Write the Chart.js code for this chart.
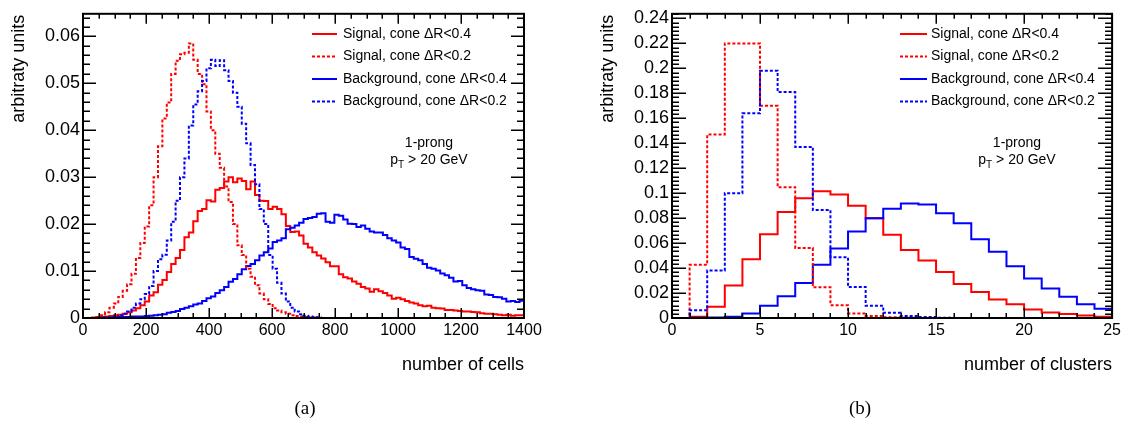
<!DOCTYPE html>
<html>
<head>
<meta charset="utf-8">
<script src="https://cdn.jsdelivr.net/npm/chart.js@4.4.1/dist/chart.umd.min.js"></script>
<style>
  html, body { margin: 0; padding: 0; background: #fff; }
  #wrap { position: relative; width: 1124px; height: 423px; overflow: hidden; }
  .panel { position: absolute; top: 0; width: 562px; height: 423px; }
</style>
</head>
<body>
<div id="wrap">
  <div class="panel" style="left:0"><canvas id="cells" width="562" height="423"></canvas></div>
  <div class="panel" style="left:562px"><canvas id="clusters" width="562" height="423"></canvas></div>
</div>
<script>
// ---- series names ----
const seriesLabels = [
  'Signal, cone \u0394R<0.4',
  'Signal, cone \u0394R<0.2',
  'Background, cone \u0394R<0.4',
  'Background, cone \u0394R<0.2'
];

// ---- (a) number of cells: 100 bins of width 14 over 0..1400 ----
const cellsBinWidth = 14;
const cellsSignal04 = [
  0, 0, 0.0001, 0.0002, 0.0002, 0.0003, 0.0004, 0.0006, 0.0007, 0.0009,
  0.0012, 0.0016, 0.0021, 0.0027, 0.0035, 0.0048, 0.0055, 0.0071, 0.0081, 0.0098,
  0.0115, 0.0128, 0.0145, 0.0172, 0.0182, 0.0206, 0.0228, 0.0232, 0.0251, 0.0248,
  0.0273, 0.0277, 0.0291, 0.0300, 0.0289, 0.0297, 0.0292, 0.0274, 0.0291, 0.0262,
  0.0250, 0.0249, 0.0232, 0.0237, 0.0232, 0.0221, 0.0196, 0.0183, 0.0184, 0.0176,
  0.0158, 0.0150, 0.0140, 0.0133, 0.0127, 0.0119, 0.0110, 0.0110, 0.0093, 0.0087,
  0.0084, 0.0078, 0.0073, 0.0066, 0.0063, 0.0056, 0.0061, 0.0057, 0.0053, 0.0048,
  0.0041, 0.0043, 0.0040, 0.0036, 0.0033, 0.0031, 0.0027, 0.0025, 0.0026, 0.0022,
  0.0021, 0.0020, 0.0017, 0.0017, 0.0016, 0.0015, 0.0014, 0.0014, 0.0013, 0.0012,
  0.0010, 0.0009, 0.0009, 0.0008, 0.0007, 0.0006, 0.0007, 0.0005, 0.0006, 0.0006
];
const cellsSignal02 = [
  0, 0, 0, 0.0002, 0.0006, 0.0012, 0.0022, 0.0031, 0.0045, 0.0058,
  0.0072, 0.0094, 0.0128, 0.0160, 0.0195, 0.0240, 0.0300, 0.0366, 0.0425, 0.0459,
  0.0520, 0.0548, 0.0562, 0.0565, 0.0585, 0.0550, 0.0520, 0.0498, 0.0440, 0.0400,
  0.0350, 0.0320, 0.0280, 0.0247, 0.0200, 0.0155, 0.0134, 0.0105, 0.0088, 0.0070,
  0.0052, 0.0040, 0.0030, 0.0021, 0.0016, 0.0012, 0.0009, 0.0006, 0.0004, 0.0003,
  0.0002, 0.0001, 0.0001, 0, 0, 0, 0, 0, 0, 0,
  0, 0, 0, 0, 0, 0, 0, 0, 0, 0,
  0, 0, 0, 0, 0, 0, 0, 0, 0, 0,
  0, 0, 0, 0, 0, 0, 0, 0, 0, 0,
  0, 0, 0, 0, 0, 0, 0, 0, 0, 0
];
const cellsBackground04 = [
  0, 0, 0, 0, 0.0001, 0.0001, 0.0001, 0.0001, 0.0002, 0.0002,
  0.0002, 0.0003, 0.0003, 0.0003, 0.0004, 0.0005, 0.0006, 0.0007, 0.0008, 0.0011,
  0.0013, 0.0015, 0.0019, 0.0022, 0.0025, 0.0029, 0.0031, 0.0036, 0.0042, 0.0046,
  0.0053, 0.0059, 0.0066, 0.0077, 0.0083, 0.0093, 0.0104, 0.0111, 0.0115, 0.0123,
  0.0133, 0.0140, 0.0148, 0.0162, 0.0165, 0.0170, 0.0189, 0.0192, 0.0197, 0.0203,
  0.0211, 0.0213, 0.0215, 0.0222, 0.0223, 0.0205, 0.0203, 0.0220, 0.0218, 0.0210,
  0.0201, 0.0200, 0.0194, 0.0197, 0.0190, 0.0184, 0.0182, 0.0182, 0.0177, 0.0170,
  0.0165, 0.0161, 0.0150, 0.0147, 0.0130, 0.0126, 0.0123, 0.0115, 0.0107, 0.0105,
  0.0101, 0.0095, 0.0091, 0.0086, 0.0078, 0.0079, 0.0070, 0.0064, 0.0061, 0.0059,
  0.0058, 0.0050, 0.0049, 0.0045, 0.0044, 0.0041, 0.0035, 0.0036, 0.0034, 0.0037
];
const cellsBackground02 = [
  0, 0, 0, 0, 0, 0.0001, 0.0001, 0.0003, 0.0006, 0.0009,
  0.0014, 0.0022, 0.0031, 0.0040, 0.0051, 0.0068, 0.0100, 0.0125, 0.0135, 0.0165,
  0.0205, 0.0250, 0.0300, 0.0340, 0.0410, 0.0455, 0.0483, 0.0505, 0.0532, 0.0550,
  0.0537, 0.0549, 0.0528, 0.0505, 0.0480, 0.0450, 0.0414, 0.0372, 0.0326, 0.0285,
  0.0232, 0.0200, 0.0134, 0.0105, 0.0075, 0.0052, 0.0035, 0.0022, 0.0014, 0.0008,
  0.0005, 0.0003, 0.0002, 0.0001, 0, 0, 0, 0, 0, 0,
  0, 0, 0, 0, 0, 0, 0, 0, 0, 0,
  0, 0, 0, 0, 0, 0, 0, 0, 0, 0,
  0, 0, 0, 0, 0, 0, 0, 0, 0, 0,
  0, 0, 0, 0, 0, 0, 0, 0, 0, 0
];
const cellsXTicks = [0, 200, 400, 600, 800, 1000, 1200, 1400];
const cellsYTicks = [0, 0.01, 0.02, 0.03, 0.04, 0.05, 0.06];

// ---- (b) number of clusters: 25 bins of width 1 over 0..25 ----
const clustersBinWidth = 1;
const clustersSignal04 = [
  0, 0.0010, 0.0090, 0.0260, 0.0470, 0.0670, 0.0850, 0.0960, 0.1015, 0.0990,
  0.0900, 0.0800, 0.0667, 0.0545, 0.0460, 0.0368, 0.0272, 0.0209, 0.0148, 0.0110,
  0.0069, 0.0045, 0.0032, 0.0021, 0.0010
];
const clustersSignal02 = [
  0, 0.0426, 0.1470, 0.2200, 0.2200, 0.1700, 0.1048, 0.0560, 0.0246, 0.0103,
  0.0037, 0.0016, 0.0007, 0.0003, 0.0001, 0, 0, 0, 0, 0,
  0, 0, 0, 0, 0
];
const clustersBackground04 = [
  0, 0.0002, 0.0005, 0.0010, 0.0037, 0.0098, 0.0175, 0.0280, 0.0426, 0.0556,
  0.0693, 0.0800, 0.0876, 0.0918, 0.0910, 0.0839, 0.0760, 0.0630, 0.0530, 0.0415,
  0.0317, 0.0236, 0.0170, 0.0110, 0.0074
];
const clustersBackground02 = [
  0, 0.0063, 0.0380, 0.1000, 0.1640, 0.1980, 0.1810, 0.1370, 0.0865, 0.0487,
  0.0249, 0.0098, 0.0042, 0.0016, 0.0008, 0.0003, 0, 0, 0, 0,
  0, 0, 0, 0, 0
];
const clustersXTicks = [0, 5, 10, 15, 20, 25];
const clustersYTicks = [0, 0.02, 0.04, 0.06, 0.08, 0.1, 0.12, 0.14, 0.16, 0.18, 0.2, 0.22, 0.24];

// ---- styling ----
const SANS = '"Liberation Sans", Arial, Helvetica, sans-serif';
const SERIF = '"Liberation Serif", "Times New Roman", serif';
const seriesStyles = [
  { color: '#ff0000', dash: [], order: 4 },
  { color: '#ff0000', dash: [3, 2], order: 2 },
  { color: '#0000ff', dash: [], order: 3 },
  { color: '#0000ff', dash: [3, 2], order: 1 }
];

// Histogram outline: one point per lower bin edge, plus the last upper edge.
function histogramPoints(values, width) {
  const pts = values.map((v, i) => ({ x: i * width, y: v }));
  pts.push({ x: values.length * width, y: values[values.length - 1] });
  return pts;
}

function makeDatasets(seriesList, width) {
  return seriesList.map((values, i) => ({
    label: seriesLabels[i],
    data: histogramPoints(values, width),
    borderColor: seriesStyles[i].color,
    borderDash: seriesStyles[i].dash,
    borderWidth: 2,
    stepped: 'before',
    pointRadius: 0,
    fill: false,
    order: seriesStyles[i].order
  }));
}

const fmt = v => String(+Number(v).toFixed(4));

// Frame with inward ticks on all four sides, legend and annotation texts.
const framePlugin = {
  id: 'rootFrame',
  afterDatasetsDraw(chart, args, o) {
    const { ctx, chartArea: a, scales: { x, y } } = chart;
    ctx.save();
    ctx.strokeStyle = '#000';
    ctx.lineWidth = 1.5;
    ctx.setLineDash([]);
    ctx.beginPath();
    const nx = Math.round((x.max - x.min) / o.xMinor);
    for (let k = 0; k <= nx; k++) {
      const v = x.min + k * o.xMinor;
      if (v > x.max + 1e-9) break;
      const px = Math.round(x.getPixelForValue(v)) + 0.25;
      const r = v / o.xMajor;
      const len = Math.abs(r - Math.round(r)) < 1e-6 ? o.xMajorLen : o.xMinorLen;
      ctx.moveTo(px, a.bottom); ctx.lineTo(px, a.bottom - len);
      ctx.moveTo(px, a.top); ctx.lineTo(px, a.top + len);
    }
    const ny = Math.floor((y.max - y.min) / o.yMinor + 1e-6);
    for (let k = 0; k <= ny; k++) {
      const v = y.min + k * o.yMinor;
      const py = Math.round(y.getPixelForValue(v)) + 0.25;
      const r = v / o.yMajor;
      const len = Math.abs(r - Math.round(r)) < 1e-6 ? o.yMajorLen : o.yMinorLen;
      ctx.moveTo(a.left, py); ctx.lineTo(a.left + len, py);
      ctx.moveTo(a.right, py); ctx.lineTo(a.right - len, py);
    }
    ctx.stroke();
    ctx.lineWidth = 2;
    ctx.strokeRect(a.left, a.top, a.right - a.left, a.bottom - a.top);

    // legend
    ctx.font = '14px ' + SANS;
    ctx.textAlign = 'left';
    ctx.textBaseline = 'middle';
    ctx.fillStyle = '#000';
    chart.data.datasets.forEach((ds, i) => {
      const ly = o.legendY[i];
      ctx.strokeStyle = ds.borderColor;
      ctx.lineWidth = 2;
      ctx.setLineDash(ds.borderDash || []);
      ctx.beginPath();
      ctx.moveTo(o.legendLine[0], ly);
      ctx.lineTo(o.legendLine[1], ly);
      ctx.stroke();
      ctx.setLineDash([]);
      ctx.fillText(ds.label, o.legendTextX, ly);
    });

    // selection notes
    ctx.textAlign = 'center';
    ctx.fillText('1-prong', o.noteX, o.noteY[0]);
    const f1 = '14px ' + SANS, f2 = '10px ' + SANS;
    ctx.font = f1; const wp = ctx.measureText('p').width;
    const rest = ' > 20 GeV'; const wr = ctx.measureText(rest).width;
    ctx.font = f2; const wt = ctx.measureText('T').width;
    let sx = o.noteX - (wp + wt + wr) / 2;
    ctx.textAlign = 'left';
    ctx.font = f1; ctx.fillText('p', sx, o.noteY[1]);
    ctx.font = f2; ctx.fillText('T', sx + wp, o.noteY[1] + 5);
    ctx.font = f1; ctx.fillText(rest, sx + wp + wt, o.noteY[1]);

    // axis titles
    ctx.font = '18px ' + SANS;
    ctx.textAlign = 'right';
    ctx.fillText(o.xTitle, a.right, o.xTitleY);
    ctx.save();
    ctx.translate(o.yTitleX, a.top + 1);
    ctx.rotate(-Math.PI / 2);
    ctx.textAlign = 'right';
    ctx.fillText('arbitraty units', 0, 0);
    ctx.restore();

    // panel caption
    ctx.font = '19px ' + SERIF;
    ctx.textAlign = 'center';
    ctx.fillText(o.caption, o.captionX, o.captionY);
    ctx.restore();
  }
};

function makeChart(id, cfg) {
  return new Chart(document.getElementById(id), {
    type: 'line',
    data: { datasets: makeDatasets(cfg.series, cfg.binWidth) },
    options: {
      responsive: false,
      animation: false,
      events: [],
      layout: { padding: { top: 11, right: cfg.padRight, left: 0, bottom: 0 } },
      plugins: {
        legend: { display: false },
        tooltip: { enabled: false },
        rootFrame: cfg.frame
      },
      elements: { point: { radius: 0 }, line: { tension: 0 } },
      scales: {
        x: {
          type: 'linear', min: cfg.xRange[0], max: cfg.xRange[1],
          grid: { display: false, drawTicks: false },
          border: { display: false },
          ticks: { font: { family: SANS, size: 16 }, color: '#000', padding: 3,
                   autoSkip: false, maxRotation: 0, callback: fmt },
          afterBuildTicks: s => { s.ticks = cfg.xTicks.map(v => ({ value: v })); },
          afterFit: s => { s.height = 105; }
        },
        y: {
          type: 'linear', min: cfg.yRange[0], max: cfg.yRange[1],
          grid: { display: false, drawTicks: false },
          border: { display: false },
          ticks: { font: { family: SANS, size: 18 }, color: '#000', padding: 3,
                   autoSkip: false, callback: fmt },
          afterBuildTicks: s => { s.ticks = cfg.yTicks.map(v => ({ value: v })); },
          afterFit: s => { s.width = cfg.yAxisWidth; }
        }
      }
    },
    plugins: [framePlugin]
  });
}

makeChart('cells', {
  series: [cellsSignal04, cellsSignal02, cellsBackground04, cellsBackground02],
  binWidth: cellsBinWidth,
  xRange: [0, 1400], yRange: [0, 0.0648],
  xTicks: cellsXTicks, yTicks: cellsYTicks,
  yAxisWidth: 83, padRight: 38,
  frame: {
    xMinor: 50, xMajor: 200, xMajorLen: 10, xMinorLen: 5,
    yMinor: 0.002, yMajor: 0.01, yMajorLen: 13, yMinorLen: 7,
    legendY: [34, 56.5, 79, 101.5], legendLine: [312, 337], legendTextX: 343,
    noteX: 429, noteY: [143, 160],
    xTitle: 'number of cells', xTitleY: 365, yTitleX: 19,
    caption: '(a)', captionX: 305, captionY: 409
  }
});

makeChart('clusters', {
  series: [clustersSignal04, clustersSignal02, clustersBackground04, clustersBackground02],
  binWidth: clustersBinWidth,
  xRange: [0, 25], yRange: [0, 0.2437],
  xTicks: clustersXTicks, yTicks: clustersYTicks,
  yAxisWidth: 110, padRight: 11,
  frame: {
    xMinor: 1, xMajor: 5, xMajorLen: 10, xMinorLen: 5,
    yMinor: 0.02 / 6, yMajor: 0.02, yMajorLen: 14, yMinorLen: 7,
    legendY: [34, 56.5, 79, 101.5], legendLine: [338, 365], legendTextX: 369,
    noteX: 455, noteY: [143, 160],
    xTitle: 'number of clusters', xTitleY: 365, yTitleX: 46,
    caption: '(b)', captionX: 298, captionY: 409
  }
});
</script>
</body>
</html>
